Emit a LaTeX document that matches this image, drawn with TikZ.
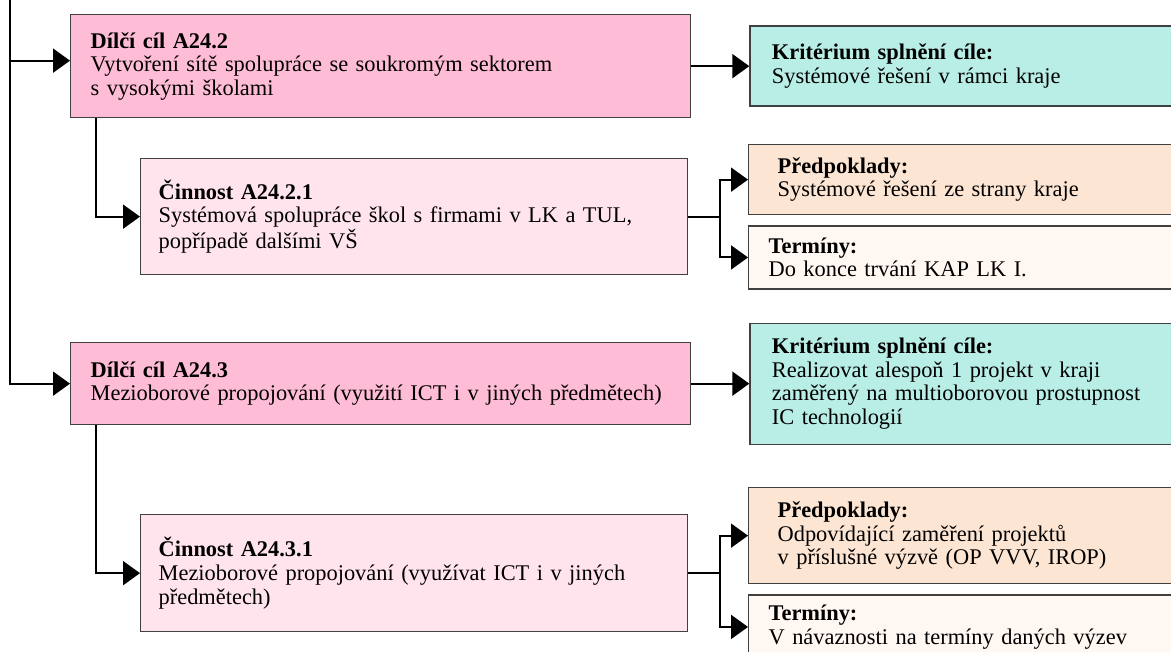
\documentclass[tikz,border=0pt]{standalone}
\usepackage{fontspec}
\setmainfont{Liberation Serif}
\usetikzlibrary{arrows.meta,positioning}
\definecolor{goalcolor}{RGB}{255,188,215}
\definecolor{actcolor}{RGB}{255,228,238}
\definecolor{kritcolor}{RGB}{185,238,230}
\definecolor{predcolor}{RGB}{253,229,211}
\definecolor{termcolor}{RGB}{255,247,242}

\begin{document}
\begin{tikzpicture}[
    x=0.5pt, y=-0.5pt,
    box/.style={rectangle, draw=black!75, line width=0.65pt, anchor=north west, align=left, inner ysep=2pt, font=\fontsize{11.2}{11.8}\selectfont},
    goal/.style={box, fill=goalcolor, inner xsep=10pt, text width=290pt},
    act/.style={box, fill=actcolor, inner xsep=9pt, text width=255.5pt},
    krit/.style={box, fill=kritcolor, inner xsep=11pt, text width=204pt},
    pred/.style={box, fill=predcolor, inner xsep=14.5pt, text width=197pt},
    term/.style={box, fill=termcolor, inner xsep=10pt, text width=206pt},
    edge/.style={-{Triangle[length=8.5pt, width=12pt]}, line width=1pt},
    link/.style={line width=1pt}
]
    \useasboundingbox (0,0) rectangle (1171,652);
    \clip (0,0) rectangle (1171,652);

    % goal A24.2
    \node[goal, minimum height=51.5pt] (goalB) at (70,14) {\textbf{Dílčí cíl A24.2}\\Vytvoření sítě spolupráce se soukromým sektorem\\s vysokými školami};
    \node[krit, minimum height=40pt, right=29pt of goalB] (kritB) {\textbf{Kritérium splnění cíle:}\\Systémové řešení v rámci kraje};
    \node[act, minimum height=58pt] (actB) at (140,158) {\textbf{Činnost A24.2.1}\\Systémová spolupráce škol s firmami v LK a TUL,\\popřípadě dalšími VŠ};
    \node[pred, minimum height=35pt] (predB) at (748,144) {\textbf{Předpoklady:}\\Systémové řešení ze strany kraje};
    \node[term, minimum height=31.5pt, below=5pt of predB] (termB) {\textbf{Termíny:}\\Do konce trvání KAP LK I.};
    \coordinate[right=16pt of actB] (jB);

    % goal A24.3
    \node[goal, minimum height=41pt] (goalC) at (70,342) {\textbf{Dílčí cíl A24.3}\\Mezioborové propojování (využití ICT i v jiných předmětech)};
    \node[krit, minimum height=60.5pt, right=29pt of goalC] (kritC) {\textbf{Kritérium splnění cíle:}\\Realizovat alespoň 1 projekt v kraji\\zaměřený na multioborovou prostupnost\\IC technologií};
    \node[act, minimum height=58.5pt] (actC) at (140,514) {\textbf{Činnost A24.3.1}\\Mezioborové propojování (využívat ICT i v jiných\\předmětech)};
    \node[pred, minimum height=48pt] (predC) at (748,487) {\textbf{Předpoklady:}\\Odpovídající zaměření projektů\\v příslušné výzvě (OP VVV, IROP)};
    \node[term, minimum height=32pt, below=5pt of predC] (termC) {\textbf{Termíny:}\\V návaznosti na termíny daných výzev};
    \coordinate[right=16pt of actC] (jC);

    % trunk
    \coordinate (top) at (10,0);
    \draw[edge] (top) |- (goalC.west);
    \draw[edge] ([yshift=2.75pt]goalB.west -| top) -- ([yshift=2.75pt]goalB.west);

    \draw[edge] (goalB) -- (kritB);
    \draw[edge] ([xshift=13pt]goalB.south west) |- (actB.west);
    \draw[link] (actB.east) -- (jB);
    \draw[edge] (jB) |- (predB.west);
    \draw[edge] (jB) |- (termB.west);

    \draw[edge] (goalC) -- (kritC);
    \draw[edge] ([xshift=13pt]goalC.south west) |- (actC.west);
    \draw[link] (actC.east) -- (jC);
    \draw[edge] (jC) |- (predC.west);
    \draw[edge] (jC) |- (termC.west);
\end{tikzpicture}
\end{document}
